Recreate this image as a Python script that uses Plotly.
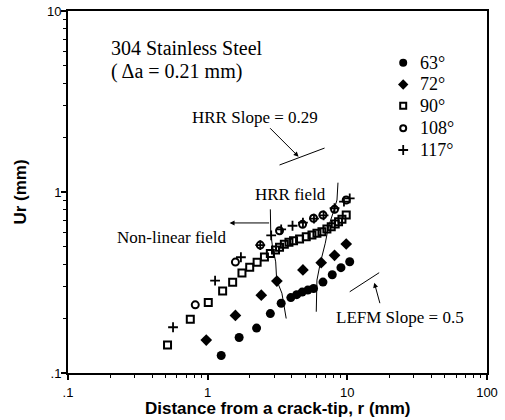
import plotly.graph_objects as go

# ---- data ----
x63 = [1.25, 1.68, 2.24, 2.81, 3.36, 3.94, 4.34, 4.75, 5.21, 5.73, 6.69, 7.80, 9.0, 10.4]
y63 = [0.125, 0.157, 0.177, 0.213, 0.243, 0.261, 0.271, 0.280, 0.287, 0.293, 0.318, 0.349, 0.382, 0.412]

x72 = [0.977, 1.58, 2.42, 3.13, 4.81, 6.50, 8.10, 9.82]
y72 = [0.152, 0.208, 0.269, 0.322, 0.371, 0.407, 0.447, 0.516]

x90 = [0.516, 0.751, 1.01, 1.28, 1.51, 1.76, 2.0, 2.26, 2.55, 2.81, 3.06, 3.27, 3.54, 3.82,
       4.12, 4.55, 5.08, 5.58, 6.06, 6.58, 7.14, 7.67, 8.19, 8.65, 9.15, 9.82]
y90 = [0.143, 0.198, 0.245, 0.284, 0.317, 0.357, 0.384, 0.409, 0.437, 0.458, 0.478, 0.495, 0.514, 0.527,
       0.538, 0.550, 0.566, 0.578, 0.591, 0.603, 0.625, 0.643, 0.665, 0.685, 0.707, 0.746]

x108 = [0.815, 1.58, 2.38, 3.27, 4.78, 5.73, 6.69, 8.1, 9.82]
y108 = [0.238, 0.410, 0.509, 0.611, 0.663, 0.716, 0.746, 0.802, 0.903]

x117 = [0.565, 1.13, 1.73, 2.38, 2.85, 3.36, 4.05, 4.81, 5.77, 6.76, 8.10, 9.46, 10.4]
y117 = [0.179, 0.324, 0.436, 0.509, 0.576, 0.622, 0.651, 0.677, 0.712, 0.743, 0.813, 0.884, 0.923]

labels = ["63°", "72°", "90°", "108°", "117°"]

x_ticks = [0.1, 1, 10, 100]
x_ticktext = [".1", "1", "10", "100"]
y_ticks = [0.1, 1, 10]
y_ticktext = [".1", "1", "10"]

# boundary curves between fields
left_bx = [2.81, 2.83, 2.90, 3.07, 3.12, 3.40, 3.65]
left_by = [0.802, 0.594, 0.510, 0.411, 0.326, 0.276, 0.200]
right_bx = [8.57, 8.43, 7.89, 7.33, 6.95, 6.40, 6.06, 5.99]
right_by = [1.126, 0.903, 0.763, 0.643, 0.521, 0.404, 0.326, 0.218]

# slope reference segments
hrr_x = [3.27, 6.87]
hrr_slope = 0.29
hrr_y0 = 1.41
lefm_x = [10.4, 16.9]
lefm_slope = 0.5
lefm_y0 = 0.281

fig = go.Figure()

styles = [
    dict(symbol="circle", size=9, color="black"),
    dict(symbol="diamond", size=9, color="black"),
    dict(symbol="square-open", size=7, color="black", line=dict(width=2, color="black")),
    dict(symbol="circle-open", size=7, color="black", line=dict(width=2, color="black")),
    dict(symbol="cross-thin-open", size=7, color="black", line=dict(width=1.8, color="black")),
]
legend_styles = [
    dict(symbol="circle", size=8, color="black"),
    dict(symbol="diamond", size=8, color="black"),
    dict(symbol="square-open", size=6, color="black", line=dict(width=2, color="black")),
    dict(symbol="circle-open", size=6, color="black", line=dict(width=2, color="black")),
    dict(symbol="cross-thin-open", size=7, color="black", line=dict(width=1.8, color="black")),
]
xs_all = [x63, x72, x90, x108, x117]
ys_all = [y63, y72, y90, y108, y117]
for xs, ys, mk, lab in zip(xs_all, ys_all, styles, labels):
    fig.add_trace(go.Scatter(x=xs, y=ys, mode="markers", name=lab, marker=mk, showlegend=False))

line_style = dict(color="black", width=1)
fig.add_trace(go.Scatter(x=left_bx, y=left_by, mode="lines", line=line_style, showlegend=False, hoverinfo="skip"))
fig.add_trace(go.Scatter(x=right_bx, y=right_by, mode="lines", line=line_style, showlegend=False, hoverinfo="skip"))
fig.add_trace(go.Scatter(x=hrr_x, y=[hrr_y0 * (xx / hrr_x[0]) ** hrr_slope for xx in hrr_x],
                         mode="lines", line=line_style, showlegend=False, hoverinfo="skip"))
fig.add_trace(go.Scatter(x=lefm_x, y=[lefm_y0 * (xx / lefm_x[0]) ** lefm_slope for xx in lefm_x],
                         mode="lines", line=line_style, showlegend=False, hoverinfo="skip"))

serif = "Liberation Serif, Times New Roman, serif"
sans = "Liberation Sans, Arial, sans-serif"

# ---- hand-made legend on an overlay axis (0..1 in both directions) ----
leg_x = 0.80
leg_text_x = 0.835
leg_rows = [0.857, 0.797, 0.738, 0.676, 0.616]
for mk, lab, ly in zip(legend_styles, labels, leg_rows):
    fig.add_trace(go.Scatter(x=[leg_x], y=[ly], mode="markers", marker=mk, xaxis="x2", yaxis="y2",
                             showlegend=False, hoverinfo="skip"))
    fig.add_annotation(x=leg_text_x, y=ly, xref="paper", yref="paper", text=lab, showarrow=False,
                       xanchor="left", yanchor="middle", font=dict(family=serif, size=18, color="black"))

def txt(x, y, s, size=17):
    fig.add_annotation(x=x, y=y, xref="paper", yref="paper", text=s, showarrow=False,
                       xanchor="left", yanchor="middle", font=dict(family=serif, size=size, color="black"))

txt(0.098, 0.897, "304 Stainless Steel", 20)
txt(0.098, 0.834, "( Δa = 0.21 mm)", 20)
txt(0.291, 0.707, "HRR Slope = 0.29")
txt(0.442, 0.492, "HRR field")
txt(0.112, 0.375, "Non-linear field")
txt(0.635, 0.152, "LEFM Slope = 0.5")

# x-axis title placed explicitly just below the tick labels
fig.add_annotation(x=0.5, y=-0.098, xref="paper", yref="paper", showarrow=False,
                   text="<b>Distance from a crack-tip, r (mm)</b>", xanchor="center", yanchor="middle",
                   font=dict(family=sans, size=17, color="black"))

arrow = dict(showarrow=True, arrowhead=2, arrowsize=1, arrowwidth=1, arrowcolor="black", text="",
             xref="x", yref="y")
fig.add_annotation(x=0.651, y=0.195, ax=-30, ay=-30, **arrow)      # HRR slope pointer
fig.add_annotation(x=1.193, y=-0.501, ax=6, ay=22, **arrow)        # LEFM slope pointer
fig.add_annotation(x=0.157, y=-0.171, ax=41, ay=0, **arrow)        # Non-linear field pointer

axis_common = dict(type="log", showgrid=False, zeroline=False, showline=True, linecolor="black",
                   linewidth=2, mirror=True, ticks="outside", ticklen=5, tickwidth=1.5, tickcolor="black",
                   automargin=False,
                   tickfont=dict(family=sans, size=13, color="black"),
                   minor=dict(ticks="outside", ticklen=3, tickwidth=1, tickcolor="black", dtick="D1", showgrid=False))

fig.update_xaxes(range=[-1, 2], tickvals=x_ticks, ticktext=x_ticktext, ticklabelstandoff=1, **axis_common)
fig.update_yaxes(range=[-1, 1], tickvals=y_ticks, ticktext=y_ticktext,
                 ticklabelstandoff=-3,
                 title=dict(text="<b>Ur (mm)</b>", standoff=16,
                            font=dict(family=sans, size=17, color="black")), **axis_common)

fig.update_layout(
    width=505, height=420,
    margin=dict(l=68, r=18, t=11, b=47, autoexpand=False),
    paper_bgcolor="white", plot_bgcolor="white",
    showlegend=False,
    xaxis2=dict(overlaying="x", range=[0, 1], visible=False, fixedrange=True),
    yaxis2=dict(overlaying="y", range=[0, 1], visible=False, fixedrange=True),
)

fig.write_html("out.html")
